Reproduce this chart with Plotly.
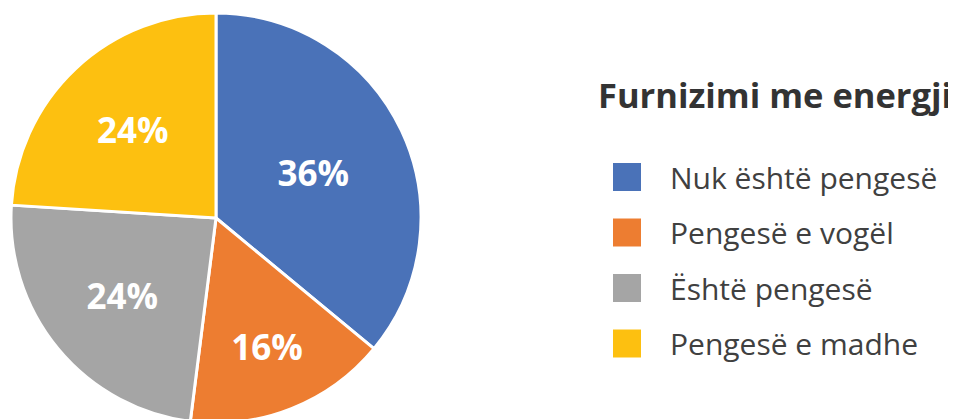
import plotly.graph_objects as go

categories = ["Nuk është pengesë", "Pengesë e vogël", "Është pengesë", "Pengesë e madhe"]
values = [36, 16, 24, 24]
colors = ["#4A72B8", "#ED7D31", "#A5A5A5", "#FDC010"]
legend_title = "Furnizimi me energji"

W, H = 956, 419
# page is drawn with an 8px body offset; layout below is in figure coords
cx, cy, R = 208, 210, 205

fig = go.Figure()
fig.add_trace(go.Pie(
    labels=categories,
    values=values,
    sort=False,
    direction="clockwise",
    rotation=0,
    marker=dict(colors=colors, line=dict(color="white", width=3)),
    textinfo="percent",
    texttemplate="%{percent:.0%}",
    textposition="inside",
    insidetextorientation="horizontal",
    textfont=dict(family="Open Sans", size=35, color="white", weight="bold"),
    domain=dict(x=[(cx - R) / W, (cx + R) / W], y=[(H - (cy + R)) / H, (H - (cy - R)) / H]),
    showlegend=False,
    hoverinfo="label+percent",
))

shapes = []
annotations = [dict(
    x=588 / W, y=1 - 87 / H, xref="paper", yref="paper",
    xanchor="left", yanchor="middle", showarrow=False,
    text="<b>" + legend_title + "</b>",
    font=dict(family="Open Sans", size=34.5, color="#333333"),
)]
y0 = 169
step = 55.5
for i, (lab, col) in enumerate(zip(categories, colors)):
    yc = y0 + i * step
    shapes.append(dict(
        type="rect", xref="paper", yref="paper",
        x0=605 / W, x1=633 / W, y0=1 - (yc - 14) / H, y1=1 - (yc + 14) / H,
        fillcolor=col, line=dict(width=0),
    ))
    annotations.append(dict(
        x=660 / W, y=1 - yc / H, xref="paper", yref="paper",
        xanchor="left", yanchor="middle", showarrow=False,
        text=lab, font=dict(family="Open Sans", size=30, color="#404040"),
    ))

fig.update_layout(
    width=W, height=H,
    margin=dict(l=0, r=0, t=0, b=0),
    paper_bgcolor="white", plot_bgcolor="white",
    shapes=shapes, annotations=annotations,
)
fig.write_html("out.html")
